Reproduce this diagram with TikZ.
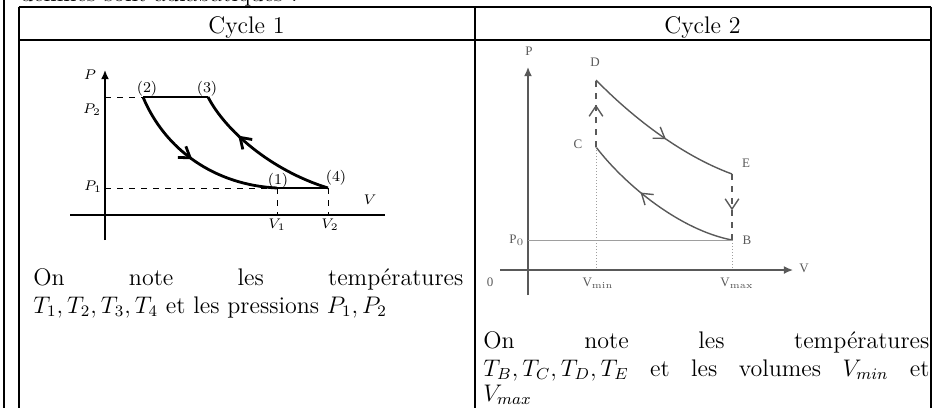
\documentclass[tikz,border=0pt]{standalone}
\usepackage{fontspec}
\newfontfamily\scanfont{Liberation Serif}
\usepackage{tikz}
\usetikzlibrary{arrows,arrows.meta,calc,decorations.markings}
\definecolor{scan}{gray}{0.35}
\definecolor{faint}{gray}{0.62}
\tikzset{
    flow/.style={postaction={decorate},decoration={markings,mark=at position #1 with {\arrow{Straight Barb[length=1.8mm,width=2.4mm]}}}},
    lbl/.style={font=\fontsize{7.5}{8}\selectfont, inner sep=0pt},
    glbl/.style={font=\scanfont\fontsize{6.5}{7}\selectfont, text=scan, inner sep=0pt},
    line/.style={anchor=base west, inner sep=0pt, font=\fontsize{12}{14}\selectfont}
}

\begin{document}
\begin{tikzpicture}[x=0.5pt,y=-0.5pt,>={Latex[length=1.6mm,width=1.4mm]}]
\useasboundingbox (0,0) rectangle (937,408);
\clip (0,0) rectangle (937,408);
\def\ttop{7}       % top rule of the table
\def\thead{40}     % rule under the header row
\def\tleft{18.5}   % left border
\def\tmid{474.5}   % column separator
\def\tright{930.5} % right border
% table
\begin{scope}[line width=1pt]
\draw (4,0) -- (4,408);
\foreach \x in {\tleft,\tmid,\tright} {%
\draw (\x,\ttop-0.5) -- (\x,408);
};
\foreach \y in {\ttop,\thead} {%
\draw (\tleft,\y) -- (\tright,\y);
};
\end{scope}
\node[line] (intro) at (20,1.5) {définies sont adiabatiques :};
\node[line,anchor=base] (head1) at ({(\tleft+\tmid)/2},33) {Cycle 1};
\node[line,anchor=base] (head2) at ({(\tmid+\tright)/2},33) {Cycle 2};

% cycle 1
\coordinate (s1) at (277,188); \coordinate (s2) at (143,97);
\coordinate (s3) at (208,97);  \coordinate (s4) at (328,188);
\draw[line width=0.7pt,->] (105,240) -- (105,70);
\draw[line width=0.7pt] (70,215) -- (385,215);
\begin{scope}[dashed,line width=0.5pt]
\draw (105,97) -- (s2);
\draw (105,188) -- (s1);
\draw (s1) -- (277,215);
\draw (s4) -- (328,215);
\end{scope}
\begin{scope}[line width=1.4pt]
\draw (s2) -- (s3);
\draw (s1) -- (s4);
\draw[flow=0.47] (s2) .. controls (165,150) and (215,185) .. (s1);
\draw[flow=0.68] (s4) .. controls (270,170) and (225,130) .. (s3);
\end{scope}
\node[lbl] (n1) at (278,181) {(1)};
\node[lbl] (n2) at (147,89) {(2)};
\node[lbl] (n3) at (207,89) {(3)};
\node[lbl] (n4) at (336,178) {(4)};
\node[lbl] (pax1) at (90,75) {$P$};
\node[lbl] (p2) at (92,110) {$P_2$};
\node[lbl] (p1) at (93,187) {$P_1$};
\node[lbl] (v1) at (277,225) {$V_1$};
\node[lbl] (v2) at (330,225) {$V_2$};
\node[lbl] (vax1) at (370,200) {$V$};
\node[line] (txt1a) at (33,285) {\makebox[215pt][s]{On note les températures}};
\node[line] (txt1b) at (33,313) {$T_1,T_2,T_3,T_4$ et les pressions $P_1,P_2$};

% cycle 2
\coordinate (b) at (732,240); \coordinate (c) at (596,147);
\coordinate (d) at (596,80);  \coordinate (e) at (732,174);
\begin{scope}[scan,line width=0.7pt]
\draw[->] (528,295) -- (528,67);
\draw[->] (500,270) -- (793,270);
\draw[flow=0.55] (d) .. controls (630,115) and (680,155) .. (e);
\draw[flow=0.62] (b) .. controls (680,230) and (625,185) .. (c);
\draw[dashed,flow=0.63] (c) -- (d);
\draw[dashed,flow=0.55] (e) -- (b);
\end{scope}
\begin{scope}[faint,line width=0.5pt]
\draw (528,240) -- (b);
\draw[densely dotted] (c) -- (596,270);
\draw[densely dotted] (b) -- (732,270);
\end{scope}
\node[glbl] (pax2) at (529,51) {P};
\node[glbl] (nd) at (595,62) {D};
\node[glbl] (nc) at (578,144) {C};
\node[glbl] (ne) at (746,163) {E};
\node[glbl] (nb) at (747,240) {B};
\node[glbl] (p0) at (517,240) {P$_0$};
\node[glbl] (zero) at (490,282) {0};
\node[glbl] (vmin) at (598,283) {V$_{\mathrm{min}}$};
\node[glbl] (vmax) at (737,283) {V$_{\mathrm{max}}$};
\node[glbl] (vax2) at (804,268) {V};
\node[line] (txt2a) at (483,348) {\makebox[223pt][s]{On note les températures}};
\node[line] (txt2b) at (483,376) {\makebox[223pt][s]{$T_B,T_C,T_D,T_E$ et les volumes $V_{min}$ et}};
\node[line] (txt2c) at (483,401) {$V_{max}$};
\end{tikzpicture}
\end{document}
